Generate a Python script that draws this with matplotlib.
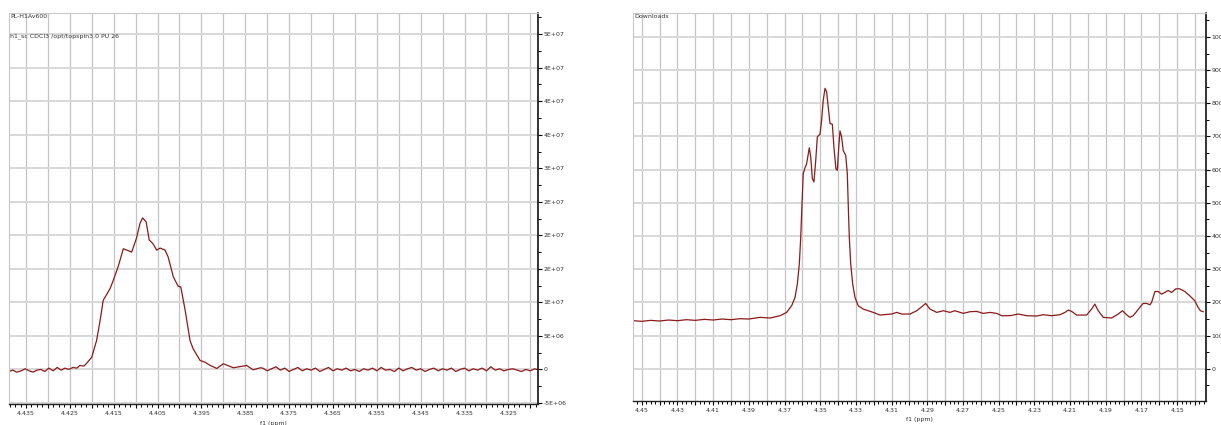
import numpy as np
import matplotlib
matplotlib.use("Agg")
import matplotlib.pyplot as plt
from matplotlib.ticker import MultipleLocator, FuncFormatter

# ---- data ----
# left spectrum: chemical shift (ppm) and intensity (in units of 1e6)
left_ppm = [
    4.4389, 4.4380, 4.4371, 4.4361, 4.4352, 4.4343, 4.4334, 4.4325, 4.4316, 4.4307,
    4.4298, 4.4288, 4.4279, 4.4270, 4.4261, 4.4252, 4.4243, 4.4234, 4.4227, 4.4218,
    4.4212, 4.4200, 4.4189, 4.4181, 4.4174, 4.4158, 4.4151, 4.4140, 4.4128, 4.4120,
    4.4109, 4.4098, 4.4090, 4.4084, 4.4076, 4.4069, 4.4061, 4.4052, 4.4044, 4.4033,
    4.4026, 4.4014, 4.4003, 4.3997, 4.3987, 4.3976, 4.3969, 4.3953, 4.3942, 4.3930,
    4.3915, 4.3900, 4.3877, 4.3847, 4.3832, 4.3816,
    4.381, 4.380, 4.379, 4.378, 4.377, 4.376, 4.375, 4.374, 4.373, 4.372,
    4.371, 4.370, 4.369, 4.368, 4.367, 4.366, 4.365, 4.364, 4.363, 4.362,
    4.361, 4.360, 4.359, 4.358, 4.357, 4.356, 4.355, 4.354, 4.353, 4.352,
    4.351, 4.350, 4.349, 4.348, 4.347, 4.346, 4.345, 4.344, 4.343, 4.342,
    4.341, 4.340, 4.339, 4.338, 4.337, 4.336, 4.335, 4.334, 4.333, 4.332,
    4.331, 4.330, 4.329, 4.328, 4.327, 4.326, 4.325, 4.324, 4.323, 4.322,
    4.321, 4.320, 4.319, 4.3185,
]
left_int = [
    -0.3, -0.1, -0.4, -0.2, 0.1, -0.2, -0.4, -0.1, 0.0, -0.3,
    0.2, -0.2, 0.3, -0.1, 0.2, 0.0, 0.3, 0.2, 0.6, 0.5,
    0.9, 1.84, 4.33, 7.31, 10.3, 12.1, 13.3, 15.3, 18.0, 17.8,
    17.5, 19.6, 21.8, 22.6, 22.0, 19.3, 18.8, 17.8, 18.1, 17.8,
    16.8, 13.8, 12.4, 12.3, 8.8, 4.33, 3.1, 1.34, 1.09, 0.6,
    0.15, 0.85, 0.25, 0.6, -0.05, 0.25,
    0.2, -0.2, 0.1, 0.4, -0.1, 0.2, -0.3, 0.0, 0.3, -0.2,
    0.1, -0.1, 0.2, -0.3, 0.0, 0.3, -0.2, 0.1, -0.1, 0.2,
    -0.2, 0.0, -0.3, 0.1, -0.1, 0.2, -0.2, 0.3, -0.1, 0.0,
    -0.3, 0.2, -0.2, 0.1, 0.3, -0.1, 0.1, -0.3, 0.0, 0.2,
    -0.2, 0.1, -0.1, 0.2, -0.3, 0.0, 0.2, -0.2, 0.1, -0.1,
    0.2, -0.2, 0.4, -0.1, 0.1, -0.2, 0.0, 0.1, -0.1, -0.3,
    0.0, -0.2, 0.1, 0.0,
]

# right spectrum: chemical shift (ppm) and intensity
right_ppm = [
    4.4549, 4.450, 4.445, 4.440, 4.435, 4.430, 4.425, 4.420, 4.415, 4.410,
    4.405, 4.400, 4.395, 4.390, 4.3837, 4.3781, 4.3725, 4.3688, 4.3660, 4.3641,
    4.3628, 4.3617, 4.3609, 4.3602, 4.3595, 4.3585, 4.3576, 4.3561, 4.3553, 4.3544,
    4.3535, 4.3525, 4.3516, 4.3501, 4.3492, 4.3483, 4.3473, 4.3464, 4.3455, 4.3445,
    4.3432, 4.3423, 4.3412, 4.3404, 4.3396, 4.3389, 4.3380, 4.3371, 4.3357, 4.3348,
    4.3343, 4.3337, 4.3329, 4.3318, 4.3305, 4.3287, 4.3259, 4.3203, 4.3165, 4.3100,
    4.3071, 4.3043, 4.2997, 4.2959, 4.2931, 4.2909, 4.2885, 4.2847, 4.2810, 4.2773,
    4.2745, 4.2698, 4.2661, 4.2623, 4.2586, 4.2549, 4.2511, 4.2483, 4.2437, 4.2390,
    4.2343, 4.2287, 4.2250, 4.2203, 4.2157, 4.2128, 4.2110, 4.2091, 4.2063, 4.2007,
    4.1979, 4.1961, 4.1942, 4.1914, 4.1867, 4.1830, 4.1806, 4.1783, 4.1765, 4.1746,
    4.1731, 4.1709, 4.1690, 4.1671, 4.1652, 4.1643, 4.1624, 4.1606, 4.1587, 4.1569,
    4.1550, 4.1531, 4.1507, 4.1485, 4.1457, 4.1429, 4.1401, 4.1382, 4.1369, 4.1354,
]
right_int = [
    145, 143, 146, 144, 147, 145, 148, 146, 149, 147,
    150, 148, 151, 150, 155, 153, 160, 170, 190, 215,
    256, 316, 397, 497, 588, 606, 618, 666, 638, 573,
    563, 628, 699, 707, 749, 809, 845, 835, 789, 739,
    737, 668, 603, 598, 668, 717, 699, 658, 643, 588,
    497, 397, 316, 256, 215, 190, 180, 170, 162, 165,
    170, 165, 165, 175, 187, 197, 180, 170, 175, 170,
    175, 167, 172, 173, 167, 170, 167, 160, 160, 165,
    160, 159, 163, 160, 163, 170, 177, 173, 162, 162,
    180, 195, 175, 155, 153, 165, 175, 163, 155, 160,
    170, 185, 197, 197, 193, 200, 233, 233, 225, 230,
    236, 230, 241, 241, 233, 220, 205, 185, 175, 172,
]

line_color = "#8b1a1a"
grid_v = "#c4c4c4"
grid_h = "#d8d8d8"
fs = 4.5

fig = plt.figure(figsize=(12.21, 4.25), dpi=100)
W, H = 1221, 425


def px_axes(x0, y0, x1, y1):
    return fig.add_axes([x0 / W, 1 - y1 / H, (x1 - x0) / W, (y1 - y0) / H])


def style(ax, xgrid, xminor, ymajor, yminor, xlab_fn, ylab_fn, xlabpad):
    ax.xaxis.set_major_locator(MultipleLocator(xgrid))
    ax.xaxis.set_minor_locator(MultipleLocator(xminor))
    ax.yaxis.set_major_locator(MultipleLocator(ymajor))
    ax.yaxis.set_minor_locator(MultipleLocator(yminor))
    ax.xaxis.set_major_formatter(FuncFormatter(xlab_fn))
    ax.yaxis.set_major_formatter(FuncFormatter(ylab_fn))
    ax.yaxis.tick_right()
    ax.grid(True, axis="x", which="major", color=grid_v, lw=0.9)
    ax.grid(True, axis="y", which="major", color=grid_h, lw=1.4)
    ax.set_axisbelow(True)
    for s in ("left", "top"):
        ax.spines[s].set_color("#c8c8c8")
        ax.spines[s].set_linewidth(0.8)
    ax.spines["bottom"].set_color("#222222")
    ax.spines["bottom"].set_linewidth(1.0)
    ax.spines["right"].set_color("#111111")
    ax.spines["right"].set_linewidth(1.2)
    ax.tick_params(axis="both", which="major", length=3.2, width=0.8,
                   labelsize=fs, labelcolor="#333333", pad=1.5)
    ax.tick_params(axis="y", which="major", pad=0.6)
    ax.tick_params(axis="both", which="minor", length=1.8, width=0.7)
    ax.set_xlabel("f1 (ppm)", fontsize=fs, color="#333333", labelpad=xlabpad)


def left_xlab(x, pos):
    k = int(round(x * 1000))
    return f"{x:.3f}" if k % 10 == 5 else ""


def right_xlab(x, pos):
    k = int(round(x * 100))
    return f"{x:.2f}" if k % 2 == 1 else ""


def sci_lab(y, pos):
    return "0" if abs(y) < 1 else f"{y:.0E}"


def int_lab(y, pos):
    return f"{y:.0f}"


# left panel
ax1 = px_axes(9, 12.7, 538, 404)
ax1.plot(left_ppm, np.array(left_int) * 1e6, color=line_color, lw=0.9)
ax1.set_xlim(4.43888, 4.31824)
ax1.set_ylim(-5.15e6, 5.32e7)
style(ax1, 0.005, 0.00125, 5e6, 2.5e6, left_xlab, sci_lab, 4.0)

# right panel
ax2 = px_axes(633, 12.7, 1206, 401)
ax2.plot(right_ppm, right_int, color=line_color, lw=0.9)
ax2.set_xlim(4.4549, 4.1338)
ax2.set_ylim(-97, 1073)
style(ax2, 0.01, 0.0025, 100, 50, right_xlab, int_lab, 3.2)

fig.text(10 / W, 1 - 16 / H, "PL-H1Av600", fontsize=fs, va="center", color="#333333")
fig.text(10 / W, 1 - 36 / H, "h1_sc CDCl3 /opt/topspin3.0 PU 26", fontsize=fs,
         va="center", color="#333333")
fig.text(634 / W, 1 - 16 / H, "Downloads", fontsize=fs, va="center", color="#333333")

fig.savefig("out.png", dpi=100)
